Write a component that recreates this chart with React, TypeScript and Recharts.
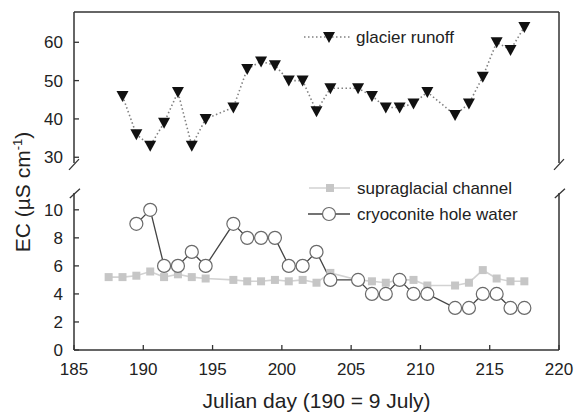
import React from "react";
import { LineChart, Line, XAxis, YAxis, ReferenceLine, Label } from "recharts";

const RUNOFF_DAY = [188.5, 189.5, 190.5, 191.5, 192.5, 193.5, 194.5, 196.5, 197.5, 198.5, 199.5, 200.5, 201.5, 202.5, 203.5, 205.5, 206.5, 207.5, 208.5, 209.5, 210.5, 212.5, 213.5, 214.5, 215.5, 216.5, 217.5];
const RUNOFF_EC = [46, 36, 33, 39, 47, 33, 40, 43, 53, 55, 54, 50, 50, 42, 48, 48, 46, 43, 43, 44, 47, 41, 44, 51, 60, 58, 64];

const CHANNEL_DAY = [187.5, 188.5, 189.5, 190.5, 191.5, 192.5, 193.5, 194.5, 196.5, 197.5, 198.5, 199.5, 200.5, 201.5, 202.5, 203.5, 205.5, 206.5, 207.5, 208.5, 209.5, 210.5, 212.5, 213.5, 214.5, 215.5, 216.5, 217.5];
const CHANNEL_EC = [5.2, 5.2, 5.3, 5.6, 5.2, 5.4, 5.2, 5.1, 5.0, 4.9, 4.9, 5.0, 4.9, 5.0, 4.8, 5.5, 5.0, 4.9, 4.8, 5.0, 5.0, 4.6, 4.6, 4.8, 5.7, 5.1, 4.9, 4.9];

const HOLE_DAY = [189.5, 190.5, 191.5, 192.5, 193.5, 194.5, 196.5, 197.5, 198.5, 199.5, 200.5, 201.5, 202.5, 203.5, 205.5, 206.5, 207.5, 208.5, 209.5, 210.5, 212.5, 213.5, 214.5, 215.5, 216.5, 217.5];
const HOLE_EC = [9, 10, 6, 6, 7, 6, 9, 8, 8, 8, 6, 6, 7, 5, 5, 4, 4, 5, 4, 4, 3, 3, 4, 4, 3, 3];

const X_TICKS = [185, 190, 195, 200, 205, 210, 215, 220];
const TOP_TICKS = [30, 40, 50, 60];
const BOTTOM_TICKS = [0, 2, 4, 6, 8, 10];

const X_DOMAIN: [number, number] = [185, 220];
const TOP_DOMAIN: [number, number] = [28.5, 67.9];
const BOTTOM_DOMAIN: [number, number] = [0, 11.2];

const runoff = RUNOFF_DAY.map((day, i) => ({ day, v: RUNOFF_EC[i] }));
const channel = CHANNEL_DAY.map((day, i) => ({ day, v: CHANNEL_EC[i] }));
const hole = HOLE_DAY.map((day, i) => ({ day, v: HOLE_EC[i] }));

const AXIS = "#333";
const FONT = "'Liberation Sans', Arial, sans-serif";

const YTick = ({ x, y, payload }: any) => (
  <g>
    <line x1={x} x2={x + 5} y1={y} y2={y} stroke={AXIS} strokeWidth={1.3} />
    <text x={x - 11} y={y + 6} textAnchor="end" fontSize={17} fill="#222" fontFamily={FONT}>{payload.value}</text>
  </g>
);

const XTick = ({ x, y, payload }: any) => (
  <g>
    <line x1={x} x2={x} y1={y} y2={y - 5} stroke={AXIS} strokeWidth={1.3} />
    <text x={x} y={y + 25} textAnchor="middle" fontSize={17} fill="#222" fontFamily={FONT}>{payload.value}</text>
  </g>
);

const Tri = (p: any) => {
  const { cx, cy } = p;
  if (cx == null || cy == null) return <g key={p.index} />;
  return <path key={p.index} d={`M${cx - 6},${cy - 5}L${cx + 6},${cy - 5}L${cx},${cy + 6}Z`} fill="#111" />;
};

const Sq = (p: any) => {
  const { cx, cy } = p;
  if (cx == null || cy == null) return <g key={p.index} />;
  return <rect key={p.index} x={cx - 4} y={cy - 4} width={8} height={8} fill="#c6c6c6" />;
};

const Circ = (p: any) => {
  const { cx, cy } = p;
  if (cx == null || cy == null) return <g key={p.index} />;
  return <circle key={p.index} cx={cx} cy={cy} r={6.5} fill="#fff" stroke="#6a6a6a" strokeWidth={1.2} />;
};

const breakLine = { stroke: AXIS, strokeWidth: 1.3, ifOverflow: "visible" as const };

export default function App() {
  return (
    <div style={{ position: "absolute", left: 0, top: 0, width: 581, height: 413, background: "#fff", fontFamily: FONT }}>
      <div style={{ position: "absolute", left: 0, top: 0 }}>
        <LineChart width={581} height={175} margin={{ top: 12, right: 22, bottom: 12, left: 0 }}>
          <XAxis type="number" dataKey="day" domain={X_DOMAIN} hide allowDataOverflow />
          <YAxis type="number" domain={TOP_DOMAIN} ticks={TOP_TICKS} width={74} tick={<YTick />} tickLine={false} tickSize={0} tickMargin={0}
            axisLine={{ stroke: AXIS, strokeWidth: 1.5 }} allowDataOverflow />
          <ReferenceLine y={TOP_DOMAIN[1]} stroke={AXIS} strokeWidth={1.5} />
          <ReferenceLine x={X_DOMAIN[1]} stroke={AXIS} strokeWidth={1.5} />
          <ReferenceLine segment={[{ x: 184.64, y: 26.7 }, { x: 185.36, y: 29.5 }]} {...breakLine} />
          <ReferenceLine segment={[{ x: 219.64, y: 26.7 }, { x: 220.36, y: 29.5 }]} {...breakLine} />
          <Line data={runoff} dataKey="v" stroke="#808080" strokeWidth={1.6} strokeDasharray="1.5 2.5" dot={Tri} activeDot={false} isAnimationActive={false} />
        </LineChart>
      </div>
      <div style={{ position: "absolute", left: 0, top: 170 }}>
        <LineChart width={581} height={243} margin={{ top: 23, right: 22, bottom: 0, left: 0 }}>
          <XAxis type="number" dataKey="day" domain={X_DOMAIN} ticks={X_TICKS} height={63} tick={<XTick />} tickLine={false} tickSize={0} tickMargin={0}
            axisLine={{ stroke: AXIS, strokeWidth: 1.5 }} allowDataOverflow>
            <Label value="Julian day (190 = 9 July)" position="insideBottom" offset={5} fontSize={21} fill="#222" />
          </XAxis>
          <YAxis type="number" domain={BOTTOM_DOMAIN} ticks={BOTTOM_TICKS} width={74} tick={<YTick />} tickLine={false} tickSize={0} tickMargin={0}
            axisLine={{ stroke: AXIS, strokeWidth: 1.5 }} allowDataOverflow />
          <ReferenceLine x={X_DOMAIN[1]} stroke={AXIS} strokeWidth={1.5} />
          <ReferenceLine segment={[{ x: 184.7, y: 10.85 }, { x: 185.43, y: 11.5 }]} {...breakLine} />
          <ReferenceLine segment={[{ x: 219.7, y: 10.85 }, { x: 220.43, y: 11.5 }]} {...breakLine} />
          <Line data={channel} dataKey="v" stroke="#d2d2d2" strokeWidth={1.6} dot={Sq} activeDot={false} isAnimationActive={false} />
          <Line data={hole} dataKey="v" stroke="#444" strokeWidth={1.3} dot={Circ} activeDot={false} isAnimationActive={false} />
        </LineChart>
      </div>
      <svg width={581} height={413} style={{ position: "absolute", left: 0, top: 0, pointerEvents: "none" }}>
        <text transform="translate(30,192) rotate(-90)" textAnchor="middle" fontSize={21} fill="#222" fontFamily={FONT}>
          EC (µS cm<tspan dy={-8} fontSize={13}>-1</tspan><tspan dy={8}>)</tspan>
        </text>
        <line x1={304} x2={350} y1={37} y2={37} stroke="#808080" strokeWidth={1.6} strokeDasharray="1.5 2.5" />
        <path d="M323,32L335,32L329,43Z" fill="#111" />
        <text x={356} y={43} fontSize={17} fill="#222" fontFamily={FONT}>glacier runoff</text>
        <line x1={309} x2={350} y1={188} y2={188} stroke="#d2d2d2" strokeWidth={1.6} />
        <rect x={326} y={184} width={8} height={8} fill="#c6c6c6" />
        <text x={357} y={194} fontSize={17} fill="#222" fontFamily={FONT}>supraglacial channel</text>
        <line x1={308} x2={350} y1={214} y2={214} stroke="#444" strokeWidth={1.3} />
        <circle cx={329} cy={214} r={6.5} fill="#fff" stroke="#6a6a6a" strokeWidth={1.2} />
        <text x={357} y={220} fontSize={17} fill="#222" fontFamily={FONT}>cryoconite hole water</text>
      </svg>
    </div>
  );
}
